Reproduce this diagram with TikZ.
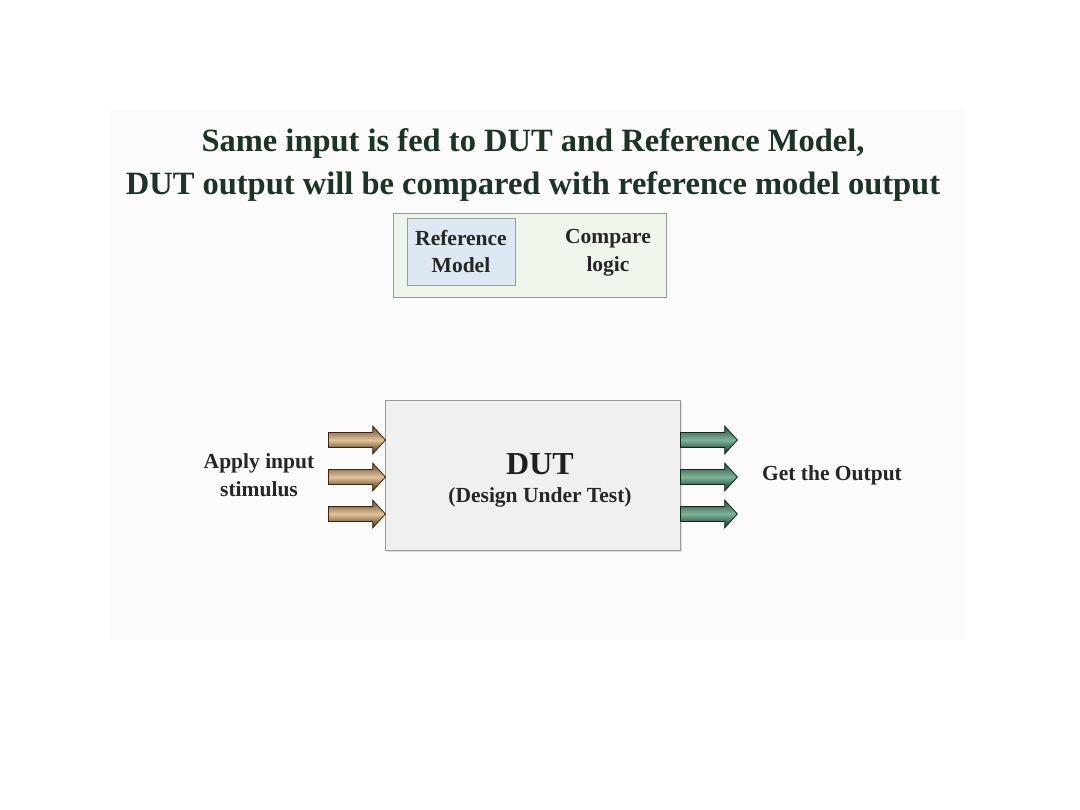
\documentclass[tikz,border=0pt]{standalone}
\usepackage{fontspec}
\setmainfont{Liberation Serif}
\usetikzlibrary{shapes.arrows,shadows}
\definecolor{titlecol}{HTML}{1C3326}
\definecolor{panelbg}{HTML}{FBFBFB}
\definecolor{cmpbg}{HTML}{EEF6EC}
\definecolor{refbg}{HTML}{DDE8F2}
\definecolor{boxline}{HTML}{9A9A9A}
\definecolor{dutbg}{HTML}{F0F0F0}
\definecolor{brownL}{HTML}{E2C49A}
\definecolor{brownD}{HTML}{3E260E}
\definecolor{greenL}{HTML}{7FB39A}
\definecolor{greenD}{HTML}{0C2B1B}
\tikzset{
  titletext/.style={font=\bfseries\fontsize{32.5}{43}\selectfont, text=titlecol, align=center},
  lbl/.style={font=\bfseries\fontsize{21.5}{27.5}\selectfont, text=black!85, align=center},
  blockarrow/.style={single arrow, line width=0.8pt, minimum height=57pt, minimum width=27pt,
     single arrow head extend=6.5pt, single arrow tip angle=95, inner xsep=0pt, inner ysep=7pt},
  inarrow/.style={blockarrow, draw=brownD, top color=brownD!85, bottom color=brownD, middle color=brownL, anchor=east},
  outarrow/.style={blockarrow, draw=greenD, top color=greenD!85, bottom color=greenD, middle color=greenL, anchor=west},
}
\begin{document}
\begin{tikzpicture}[x=1pt,y=-1pt]
\useasboundingbox[fill=white] (0,0) rectangle (1080,810);
\fill[panelbg] (110,110) rectangle (965,640);
\node[titletext] (title) at (533,165) {Same input is fed to DUT and Reference Model,\\DUT output will be compared with reference model output};
% top box
\draw[boxline, fill=cmpbg, line width=0.8pt] (393,213) rectangle (666,297);
\node[draw=boxline, fill=refbg, line width=0.8pt, minimum width=108pt, minimum height=67pt, inner sep=0pt] (ref) at (461,251.5) {};
\node[lbl] (reftxt) at (ref.center) {Reference\\Model};
\node[lbl] (cmp) at (608,253) {Compare\\logic};
% DUT
\node[draw=boxline, fill=dutbg, line width=0.8pt, minimum width=295pt, minimum height=150pt, inner sep=0pt,
      drop shadow={shadow xshift=1.5pt, shadow yshift=-1.5pt, opacity=0.25}] (dut) at (532.5,475) {};
\node[font=\bfseries\fontsize{32}{36}\selectfont, text=black!88] (duttxt) at (540,464) {DUT};
\node[lbl] (dutsub) at (540,497) {(Design Under Test)};
% arrows
\foreach \i/\yy in {1/440,2/477,3/514}{
  \node[inarrow] (in\i) at (386,\yy) {};
  \node[outarrow] (out\i) at (680,\yy) {};
}
\node[lbl] (apply) at (259,475) {Apply input\\stimulus};
\node[lbl] (get) at (832,475) {Get the Output};
\end{tikzpicture}
\end{document}
